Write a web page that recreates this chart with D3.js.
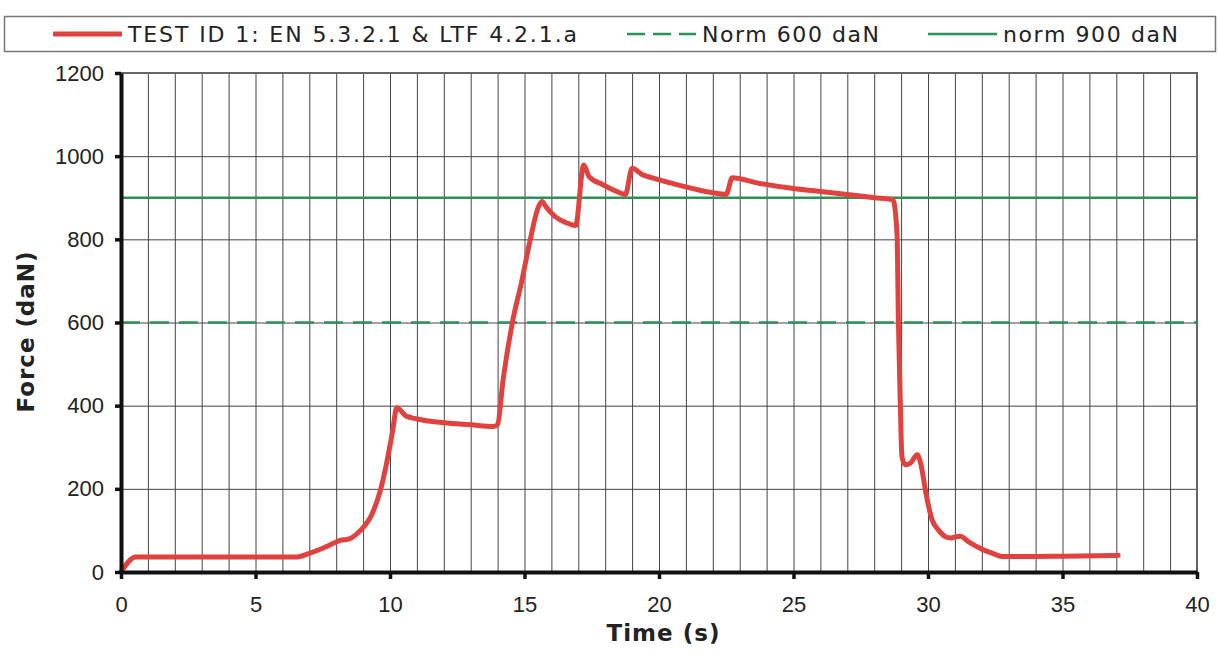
<!DOCTYPE html>
<html>
<head>
<meta charset="utf-8">
<script src="https://cdn.jsdelivr.net/npm/d3@7/dist/d3.min.js"></script>
<style>
  body { margin: 0; background: #fff; }
  svg { display: block; font-family: "DejaVu Sans", Verdana, sans-serif; }
</style>
</head>
<body>
<div id="chart"></div>
<script>
// Force vs time curve
const timeValues = [0, 0.55, 6.5, 7.0, 7.5, 8.0, 8.2, 8.4, 8.9, 9.35, 9.65, 9.9, 10.1, 10.25,
    10.6, 11.0, 12.0, 13.0, 13.85, 14.0, 14.2, 14.55, 14.9, 15.2, 15.5, 15.65,
    15.8, 16.15, 16.55, 16.9, 17.2, 17.4, 17.9, 18.4, 18.75, 19.0, 19.4, 19.75,
    20.7, 22.0, 22.5, 22.72, 23.7, 25.0, 26.0, 27.0, 28.0, 28.7, 28.85, 28.9,
    28.97, 29.03, 29.15, 29.35, 29.6, 29.75, 29.9, 30.15, 30.4, 30.65, 30.85,
    31.0, 31.2, 31.5, 32.0, 32.4, 32.75, 33.5, 35.0, 37.07];
const forceValues = [0, 36, 36, 45, 57, 72, 77, 78, 100, 142, 198, 270, 340, 395,
    375, 368, 359, 354, 350, 355, 460, 600, 700, 795, 875, 891,
    878, 854, 840, 833, 979, 951, 932, 916, 908, 971, 955, 948,
    931, 912, 908, 948, 935, 922, 915, 908, 900, 895, 810, 601,
    408, 278, 258, 262, 282, 255, 198, 126, 100, 85, 82,
    84, 86, 73, 55, 45, 37, 37, 38, 40];

const normLevels = [600, 900];
const legendLabels = ['TEST ID 1: EN 5.3.2.1 & LTF 4.2.1.a', 'Norm 600 daN', 'norm 900 daN'];
const xTicks = [0, 5, 10, 15, 20, 25, 30, 35, 40];
const yTicks = [0, 200, 400, 600, 800, 1000, 1200];

const W = 1218, H = 660;
const margin = { top: 73, right: 21, bottom: 88, left: 121 };
const width = W - margin.left - margin.right;
const height = H - margin.top - margin.bottom;

const red = '#e0433f';
const green = '#2a9158';

const svg = d3.select('#chart')
    .append('svg')
    .attr('width', W)
    .attr('height', H);

const g = svg.append('g')
    .attr('transform', `translate(${margin.left},${margin.top})`);

const xScale = d3.scaleLinear().domain([0, 40]).range([0, width]);
const yScale = d3.scaleLinear().domain([0, 1200]).range([height, 0]);

// vertical grid, every second
g.append('g')
    .call(d3.axisBottom(xScale).tickValues(d3.range(1, 40)).tickSize(height).tickFormat(''))
    .call(a => a.select('.domain').remove())
    .selectAll('line')
    .attr('stroke', '#444')
    .attr('stroke-width', 1);

// horizontal grid
g.append('g')
    .call(d3.axisLeft(yScale).tickValues(yTicks.slice(1, -1)).tickSize(-width).tickFormat(''))
    .call(a => a.select('.domain').remove())
    .selectAll('line')
    .attr('stroke', '#444')
    .attr('stroke-width', 1);

// top and right border
g.append('path')
    .attr('d', `M0,${yScale(1200)}H${xScale(40)}V${yScale(0)}`)
    .attr('fill', 'none')
    .attr('stroke', '#666')
    .attr('stroke-width', 2);

// norm lines
g.selectAll('.norm')
    .data(normLevels)
    .enter()
    .append('line')
    .attr('class', 'norm')
    .attr('x1', 0)
    .attr('x2', width)
    .attr('y1', d => yScale(d))
    .attr('y2', d => yScale(d))
    .attr('stroke', green)
    .attr('stroke-width', 2.5)
    .attr('stroke-dasharray', d => d === 600 ? '19,10' : null);

// test curve
const curveData = timeValues.map((t, i) => ({ t: t, f: forceValues[i] }));
const line = d3.line()
    .x(d => xScale(d.t))
    .y(d => yScale(d.f))
    .curve(d3.curveMonotoneX);

g.append('path')
    .datum(curveData)
    .attr('d', line)
    .attr('fill', 'none')
    .attr('stroke', red)
    .attr('stroke-width', 5)
    .attr('stroke-linejoin', 'round')
    .attr('stroke-linecap', 'round');

// axes
const xAxis = g.append('g')
    .attr('transform', `translate(0,${height})`)
    .call(d3.axisBottom(xScale).tickValues(xTicks).tickSize(7).tickSizeOuter(0).tickPadding(17));
xAxis.select('.domain').attr('stroke', '#111').attr('stroke-width', 4);
xAxis.selectAll('.tick line').attr('stroke', '#111').attr('stroke-width', 3.5);
xAxis.selectAll('text')
    .style('font-size', '22px')
    .style('fill', '#222');

const yAxis = g.append('g')
    .call(d3.axisLeft(yScale).tickValues(yTicks).tickFormat(d3.format('d'))
        .tickSize(6).tickSizeOuter(0).tickPadding(11));
yAxis.select('.domain').attr('stroke', '#111').attr('stroke-width', 4);
yAxis.selectAll('.tick line').attr('stroke', '#111').attr('stroke-width', 3.5);
yAxis.selectAll('text')
    .style('font-size', '22px')
    .style('fill', '#222');

// axis titles
svg.append('text')
    .attr('x', 663)
    .attr('y', 641)
    .attr('text-anchor', 'middle')
    .attr('textLength', 113)
    .attr('lengthAdjust', 'spacing')
    .style('font-size', '23px')
    .style('font-weight', 'bold')
    .style('fill', '#222')
    .text('Time (s)');

svg.append('text')
    .attr('transform', 'translate(34,332) rotate(-90)')
    .attr('text-anchor', 'middle')
    .attr('textLength', 161)
    .attr('lengthAdjust', 'spacing')
    .style('font-size', '23px')
    .style('font-weight', 'bold')
    .style('fill', '#222')
    .text('Force (daN)');

// legend
const legend = svg.append('g');
legend.append('rect')
    .attr('x', 4.5)
    .attr('y', 16.5)
    .attr('width', 1211)
    .attr('height', 35)
    .attr('fill', '#fff')
    .attr('stroke', '#777')
    .attr('stroke-width', 1.5);

const legendItems = [
    { label: legendLabels[0], x: 53, len: 449, color: red, w: 5, dash: null },
    { label: legendLabels[1], x: 627, len: 177, color: green, w: 2.5, dash: '18,8' },
    { label: legendLabels[2], x: 928, len: 175, color: green, w: 2.5, dash: null }
];

const item = legend.selectAll('.item')
    .data(legendItems)
    .enter()
    .append('g')
    .attr('class', 'item')
    .attr('transform', d => `translate(${d.x},34)`);

item.append('line')
    .attr('x1', 0)
    .attr('x2', 69)
    .attr('stroke', d => d.color)
    .attr('stroke-width', d => d.w)
    .attr('stroke-dasharray', d => d.dash);

item.append('text')
    .attr('x', 75)
    .attr('y', 8)
    .attr('textLength', d => d.len)
    .attr('lengthAdjust', 'spacing')
    .style('font-size', '22px')
    .style('fill', '#222')
    .text(d => d.label);
</script>
</body>
</html>
